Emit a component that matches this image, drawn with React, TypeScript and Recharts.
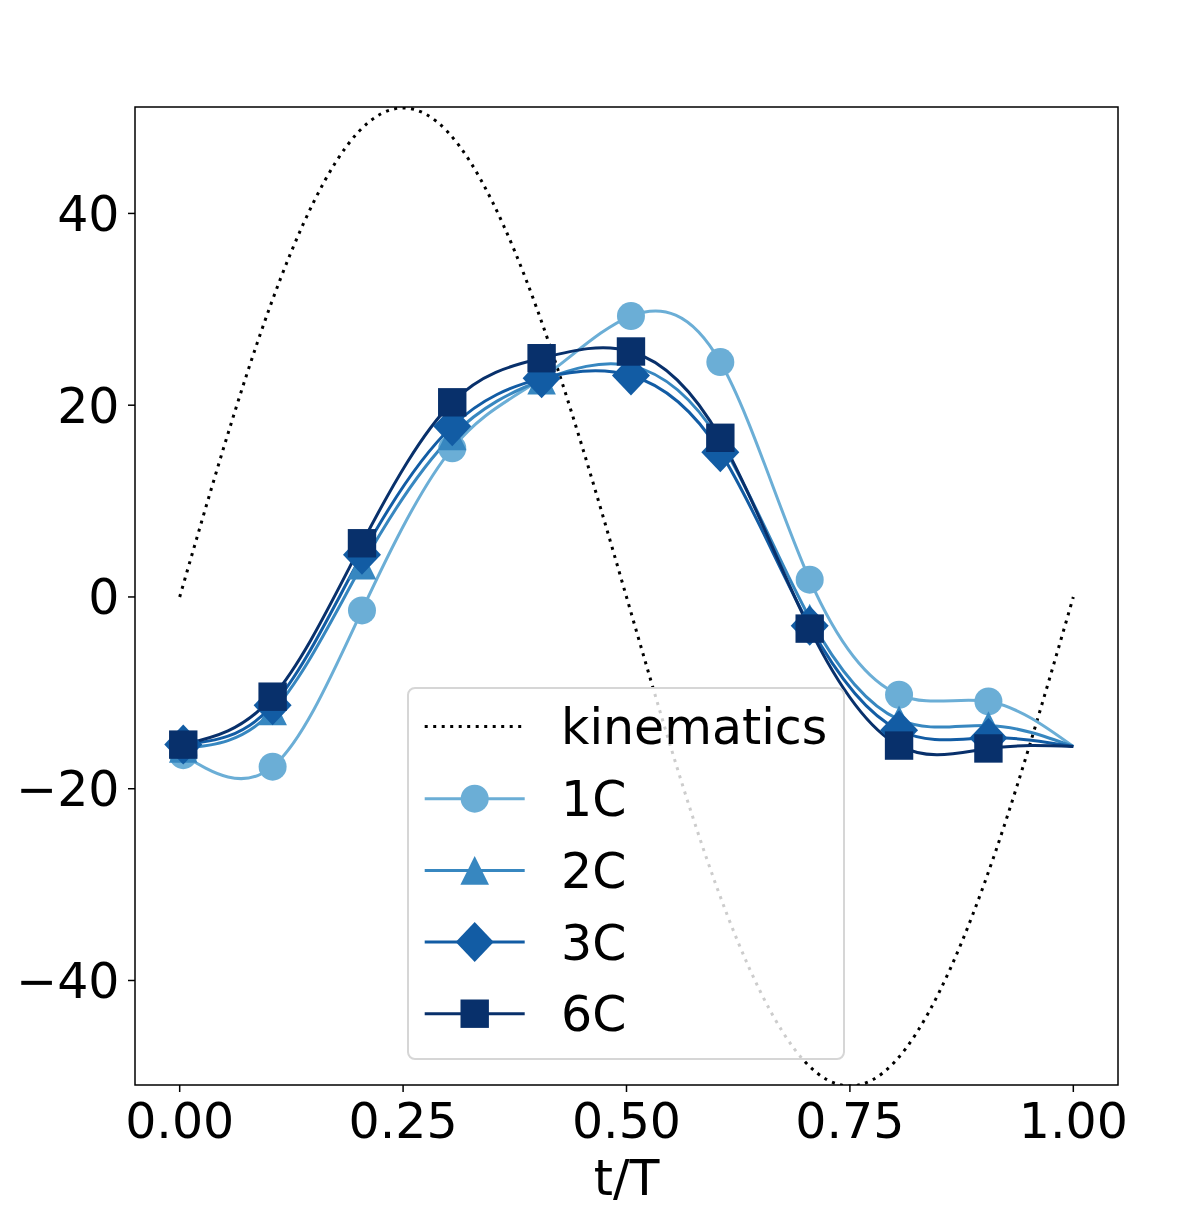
import { LineChart, Line, XAxis, YAxis, Legend, ReferenceArea } from 'recharts'

// sample times of the marked points, last one is t/T = 1
const sampleTimes = [0.004, 0.104, 0.204, 0.305, 0.405, 0.505, 0.605, 0.705, 0.805, 0.905, 1.0]

const values1C = [-16.5, -17.7, -1.4, 15.5, 22.8, 29.3, 24.5, 1.8, -10.2, -10.9, -15.6]
const values2C = [-15.8, -11.9, 3.3, 16.8, 22.6, 24.1, 16.2, -2.2, -12.8, -13.4, -15.6]
const values3C = [-15.4, -11.3, 4.4, 17.8, 22.8, 23.1, 15.1, -3.0, -13.9, -14.7, -15.6]
const values6C = [-15.4, -10.4, 5.6, 20.3, 24.9, 25.6, 16.6, -3.3, -15.5, -15.8, -15.6]

// prescribed kinematics curve, read every 0.05 t/T
const kinTimes = [0, 0.05, 0.1, 0.15, 0.2, 0.25, 0.3, 0.35, 0.4, 0.45, 0.5, 0.55, 0.6, 0.65, 0.7, 0.75, 0.8, 0.85, 0.9, 0.95, 1.0]
const kinValues = [0, 15.8, 30.0, 41.2, 48.5, 51.0, 48.5, 41.2, 30.0, 15.8, 0, -15.8, -30.0, -41.2, -48.5, -51.0, -48.5, -41.2, -30.0, -15.8, 0]

const xTicks = [0, 0.25, 0.5, 0.75, 1]
const yTicks = [-40, -20, 0, 20, 40]

type Shape = 'circle' | 'triangle' | 'diamond' | 'square'

const series: { name: string; values: number[]; color: string; shape: Shape }[] = [
  { name: '1C', values: values1C, color: '#6baed6', shape: 'circle' },
  { name: '2C', values: values2C, color: '#3787c0', shape: 'triangle' },
  { name: '3C', values: values3C, color: '#125ca4', shape: 'diamond' },
  { name: '6C', values: values6C, color: '#08306b', shape: 'square' },
]

const FONT = 'DejaVu Sans'
const tickStyle = { fontSize: 49, fill: '#000', fontFamily: FONT }

function marker(shape: Shape, color: string, cx: number, cy: number, key?: string | number) {
  if (shape === 'circle') return <circle key={key} cx={cx} cy={cy} r={14} fill={color} />
  if (shape === 'square') return <rect key={key} x={cx - 14.2} y={cy - 14.2} width={28.4} height={28.4} fill={color} />
  if (shape === 'triangle') {
    const h = 14.3
    return <polygon key={key} points={`${cx},${cy - h} ${cx - h},${cy + h} ${cx + h},${cy + h}`} fill={color} />
  }
  const w = 19, v = 20
  return <polygon key={key} points={`${cx},${cy - v} ${cx + w},${cy} ${cx},${cy + v} ${cx - w},${cy}`} fill={color} />
}

function makeDot(shape: Shape, color: string, last: number) {
  return (props: any) => {
    const { cx, cy, index } = props
    if (index === last || cx == null || cy == null) return <g key={`e${index}`} />
    return marker(shape, color, cx, cy, `d${index}`)
  }
}

function LegendBox() {
  const rowY = [39.4, 111.7, 183.4, 255, 326.7]
  return (
    <div
      style={{
        width: 438,
        height: 373,
        boxSizing: 'border-box',
        border: '2px solid #d6d6d6',
        borderRadius: 8,
        background: 'rgba(255,255,255,0.8)',
        position: 'relative',
      }}
    >
      <svg width={438} height={373} style={{ position: 'absolute', left: -2, top: -2 }}>
        <line x1={17.7} x2={117.7} y1={rowY[0]} y2={rowY[0]} stroke="#000" strokeWidth={3} strokeDasharray="3 5.5" />
        <text x={154} y={rowY[0] + 17.5} fontSize={49} fontFamily={FONT} fill="#000">kinematics</text>
        {series.map((s, i) => (
          <g key={s.name}>
            <line x1={17.7} x2={117.7} y1={rowY[i + 1]} y2={rowY[i + 1]} stroke={s.color} strokeWidth={3} />
            {marker(s.shape, s.color, 67.7, rowY[i + 1])}
            <text x={154} y={rowY[i + 1] + 17.5} fontSize={49} fontFamily={FONT} fill="#000">{s.name}</text>
          </g>
        ))}
      </svg>
    </div>
  )
}

const fmtY = (v: number) => (v < 0 ? `\u2212${Math.abs(v)}` : `${v}`)

export default function App() {
  const kinData = kinTimes.map((t, i) => ({ t, v: kinValues[i] }))
  return (
    <div style={{ position: 'absolute', left: 0, top: 0, background: '#fff' }}>
      <LineChart width={1196} height={1225} margin={{ top: 107, right: 78, bottom: 0, left: 0 }}>
        <XAxis
          dataKey="t"
          type="number"
          domain={[-0.05, 1.05]}
          ticks={xTicks}
          allowDataOverflow
          tickFormatter={(v: number) => v.toFixed(2)}
          tick={tickStyle}
          tickSize={7}
          tickMargin={11}
          tickLine={{ stroke: '#000', strokeWidth: 1.5 }}
          axisLine={false}
          height={140}
          label={{ value: 't/T', position: 'insideBottom', offset: 30, fontSize: 49, fill: '#000', fontFamily: FONT }}
        />
        <YAxis
          type="number"
          domain={[-50.9, 51.1]}
          ticks={yTicks}
          allowDataOverflow
          tickFormatter={fmtY}
          tick={tickStyle}
          tickSize={7}
          tickMargin={8.5}
          tickLine={{ stroke: '#000', strokeWidth: 1.5 }}
          axisLine={false}
          width={135}
        />
        <Line
          data={kinData}
          dataKey="v"
          name="kinematics"
          type="natural"
          stroke="#000"
          strokeWidth={3}
          strokeDasharray="3 5.5"
          dot={false}
          activeDot={false}
          isAnimationActive={false}
        />
        {series.map(s => (
          <Line
            key={s.name}
            data={sampleTimes.map((t, i) => ({ t, v: s.values[i] }))}
            dataKey="v"
            name={s.name}
            type="natural"
            stroke={s.color}
            strokeWidth={3}
            dot={makeDot(s.shape, s.color, sampleTimes.length - 1)}
            activeDot={false}
            isAnimationActive={false}
          />
        ))}
        <ReferenceArea x1={-0.05} x2={1.05} y1={-50.9} y2={51.1} fill="none" stroke="#000" strokeWidth={1.5} ifOverflow="visible" />
        <Legend
          layout="vertical"
          align="center"
          verticalAlign="middle"
          content={() => <LegendBox />}
          wrapperStyle={{ left: 407, top: 687, width: 438, height: 373 }}
        />
      </LineChart>
    </div>
  )
}
